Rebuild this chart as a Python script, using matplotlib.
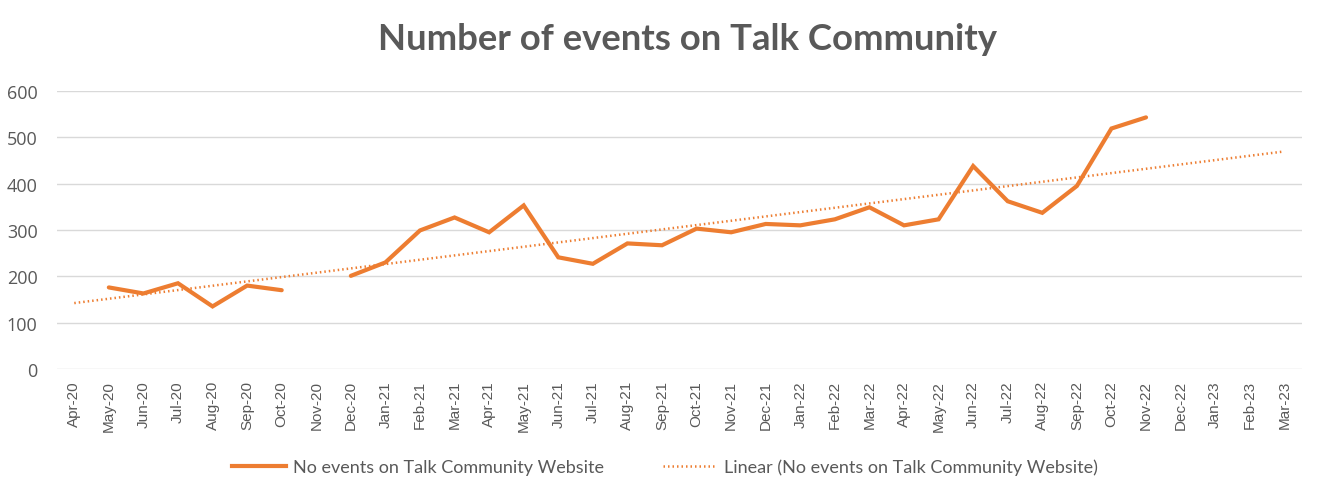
import numpy as np
import matplotlib
matplotlib.use("Agg")
import matplotlib.pyplot as plt
from matplotlib.lines import Line2D

months = ["Apr-20", "May-20", "Jun-20", "Jul-20", "Aug-20", "Sep-20", "Oct-20", "Nov-20",
          "Dec-20", "Jan-21", "Feb-21", "Mar-21", "Apr-21", "May-21", "Jun-21", "Jul-21",
          "Aug-21", "Sep-21", "Oct-21", "Nov-21", "Dec-21", "Jan-22", "Feb-22", "Mar-22",
          "Apr-22", "May-22", "Jun-22", "Jul-22", "Aug-22", "Sep-22", "Oct-22", "Nov-22",
          "Dec-22", "Jan-23", "Feb-23", "Mar-23"]
events = [np.nan, 176, 163, 185, 135, 180, 170, np.nan,
          201, 230, 299, 327, 295, 353, 241, 227,
          271, 267, 303, 295, 313, 310, 323, 349,
          310, 323, 438, 362, 337, 395, 519, 543,
          np.nan, np.nan, np.nan, np.nan]
yticks = [0, 100, 200, 300, 400, 500, 600]

title = "Number of events on Talk Community"
series_label = "No events on Talk Community Website"
trend_label = "Linear (No events on Talk Community Website)"

orange = "#ED7D31"
gray_text = "#595959"
grid_col = "#D9D9D9"

fig = plt.figure(figsize=(13.19, 4.89), dpi=100)
ax = fig.add_axes([0.0432, 0.2434, 0.9436, 0.5685])

x = np.arange(len(months))
y = np.array(events, dtype=float)
ax.plot(x, y, color=orange, lw=3.0, solid_joinstyle="miter", solid_capstyle="round", zorder=3)

mask = ~np.isnan(y)
coef = np.polyfit(x[mask], y[mask], 1)
trend = np.polyval(coef, x)
ax.plot(x, trend, color=orange, lw=1.8, linestyle=(0, (0.6, 1.2)), zorder=2)

ax.set_xlim(-0.5, len(months) - 0.5)
ax.set_ylim(0, 600)
ax.set_yticks(yticks)
ax.set_yticklabels([str(t) for t in yticks], fontsize=13, color=gray_text, family="Open Sans")
ax.set_xticks(x)
ax.set_xticklabels(months, rotation=90, fontsize=11, color=gray_text, family="Liberation Sans")
ax.tick_params(axis="both", length=0)
ax.tick_params(axis="y", pad=14)
ax.tick_params(axis="x", pad=8)
ax.grid(axis="y", color=grid_col, lw=1.0, zorder=0)
for s in ax.spines.values():
    s.set_visible(False)

fig.text(0.521, 0.92, title, ha="center", va="center", fontsize=26.3, fontweight="bold",
         color=gray_text, family="Lato")

handles = [Line2D([], [], color=orange, lw=3.0),
           Line2D([], [], color=orange, lw=1.8, linestyle=(0, (0.6, 1.2)))]
leg = fig.legend(handles, [series_label, trend_label], loc="center", bbox_to_anchor=(0.504, 0.043),
                 ncol=2, frameon=False, handlelength=3.0, columnspacing=3.3, handletextpad=0.35,
                 prop={"family": "Lato", "size": 13})
for t in leg.get_texts():
    t.set_color(gray_text)

fig.savefig("out.png", dpi=100)
